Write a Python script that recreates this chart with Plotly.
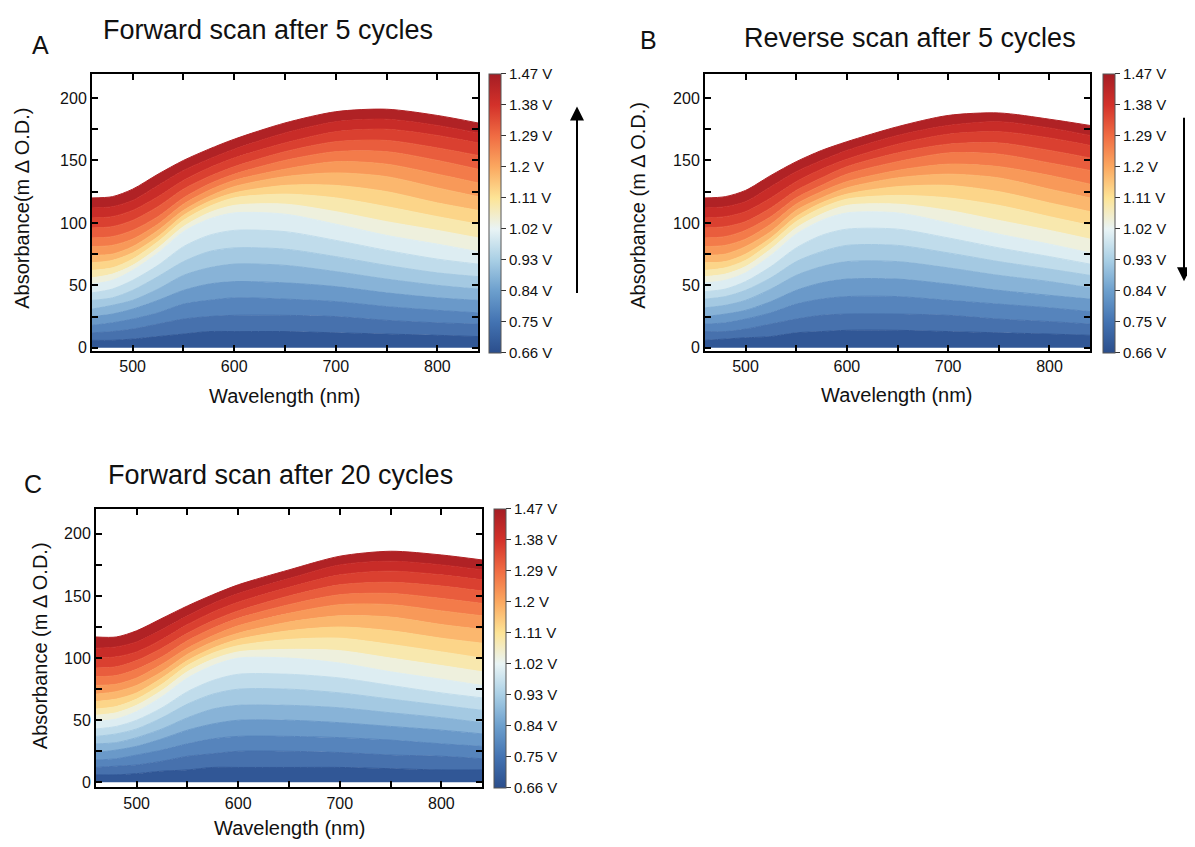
import plotly.graph_objects as go
from plotly.colors import sample_colorscale

# ---------------- data ----------------
WAVELENGTH = [460, 480, 500, 525, 550, 575, 600, 650, 700, 750, 800, 840]

VOLTAGES = [0.66, 0.705, 0.75, 0.795, 0.84, 0.885, 0.93, 0.975, 1.02, 1.065,
            1.11, 1.155, 1.2, 1.245, 1.29, 1.335, 1.38, 1.425, 1.47]

TICK_VOLTS = [0.66, 0.75, 0.84, 0.93, 1.02, 1.11, 1.2, 1.29, 1.38, 1.47]
TICK_TEXT = ["0.66 V", "0.75 V", "0.84 V", "0.93 V", "1.02 V",
             "1.11 V", "1.2 V", "1.29 V", "1.38 V", "1.47 V"]

# Absorbance (m delta O.D.) spectra, one row per voltage (ascending)
ABS_A = [
    [0, 0, 0, 0, 0, 0, 0, 0, 0, 0, 0, 0],
    [6, 6, 7, 9, 11, 13, 13, 13, 12, 11, 10, 9],
    [12, 13, 15, 19, 23, 25, 26, 26, 25, 22, 20, 19],
    [18, 20, 23, 28, 35, 38, 40, 39, 37, 33, 30, 28],
    [25, 27, 31, 38, 46, 51, 53, 52, 49, 44, 40, 38],
    [31, 34, 38, 47, 58, 64, 67, 66, 61, 55, 50, 47],
    [38, 40, 46, 57, 69, 77, 80, 79, 73, 66, 60, 57],
    [44, 47, 54, 66, 81, 90, 94, 93, 86, 78, 71, 67],
    [51, 54, 62, 76, 93, 103, 108, 107, 99, 90, 83, 77],
    [56, 59, 66, 80, 97, 108, 114, 115, 109, 101, 94, 88],
    [62, 64, 71, 85, 102, 113, 120, 123, 120, 113, 105, 99],
    [68, 70, 76, 89, 106, 117, 124, 130, 130, 125, 116, 110],
    [74, 75, 81, 94, 110, 121, 129, 137, 140, 137, 128, 121],
    [81, 82, 87, 99, 115, 126, 134, 143, 149, 147, 139, 132],
    [88, 89, 94, 105, 120, 131, 139, 150, 157, 157, 150, 143],
    [96, 97, 102, 113, 127, 137, 145, 157, 165, 166, 160, 154],
    [104, 105, 110, 121, 134, 144, 152, 164, 173, 175, 170, 164],
    [112, 113, 118, 130, 142, 151, 159, 172, 181, 183, 178, 172],
    [120, 121, 127, 139, 150, 159, 167, 180, 189, 191, 186, 180],
]

ABS_B = [
    [0, 0, 0, 0, 0, 0, 0, 0, 0, 0, 0, 0],
    [6, 7, 8, 9, 12, 13, 14, 14, 13, 12, 11, 10],
    [13, 13, 15, 19, 23, 26, 27, 27, 26, 23, 21, 19],
    [19, 20, 23, 28, 35, 39, 41, 41, 38, 35, 32, 29],
    [25, 27, 30, 37, 46, 52, 55, 55, 51, 46, 42, 39],
    [32, 34, 38, 47, 58, 65, 69, 69, 64, 58, 53, 48],
    [39, 41, 46, 56, 69, 77, 82, 82, 76, 69, 63, 58],
    [45, 47, 53, 65, 80, 90, 95, 95, 88, 80, 73, 67],
    [52, 54, 60, 74, 91, 102, 108, 108, 100, 91, 83, 76],
    [57, 59, 65, 79, 96, 107, 114, 115, 110, 102, 94, 87],
    [62, 64, 70, 84, 101, 112, 119, 122, 120, 114, 105, 98],
    [68, 69, 75, 88, 105, 116, 123, 129, 130, 125, 116, 109],
    [74, 75, 81, 93, 110, 120, 128, 136, 139, 136, 127, 120],
    [81, 82, 87, 99, 115, 125, 133, 142, 147, 145, 138, 131],
    [88, 89, 94, 105, 120, 130, 139, 149, 156, 155, 148, 142],
    [96, 97, 101, 112, 126, 136, 145, 156, 163, 164, 158, 152],
    [104, 105, 109, 120, 133, 143, 151, 163, 171, 173, 168, 162],
    [112, 113, 117, 129, 141, 150, 158, 170, 178, 181, 176, 170],
    [120, 121, 126, 138, 149, 158, 165, 177, 186, 188, 183, 178],
]

ABS_C = [
    [0, 0, 0, 0, 0, 0, 0, 0, 0, 0, 0, 0],
    [6, 6, 7, 9, 10, 12, 12, 12, 12, 11, 10, 10],
    [12, 13, 14, 17, 21, 23, 25, 25, 24, 22, 21, 19],
    [18, 19, 22, 26, 31, 35, 37, 37, 36, 34, 31, 29],
    [24, 26, 29, 35, 42, 47, 50, 50, 48, 45, 42, 39],
    [31, 32, 36, 43, 52, 59, 62, 62, 60, 56, 52, 48],
    [37, 39, 43, 52, 63, 71, 75, 75, 72, 67, 62, 58],
    [43, 45, 50, 60, 73, 82, 87, 87, 84, 78, 72, 68],
    [49, 51, 57, 69, 84, 94, 100, 100, 96, 89, 83, 78],
    [54, 56, 62, 74, 89, 99, 105, 107, 106, 100, 94, 89],
    [59, 61, 67, 79, 94, 104, 110, 115, 116, 111, 105, 100],
    [65, 67, 72, 84, 98, 108, 115, 122, 125, 122, 116, 112],
    [71, 73, 78, 89, 103, 113, 120, 129, 134, 133, 127, 123],
    [78, 79, 84, 95, 108, 118, 126, 136, 143, 143, 138, 134],
    [85, 86, 91, 101, 114, 124, 132, 143, 151, 152, 148, 144],
    [92, 93, 98, 108, 120, 130, 138, 150, 159, 161, 158, 154],
    [100, 101, 105, 115, 127, 137, 145, 157, 167, 170, 167, 163],
    [108, 109, 113, 123, 134, 144, 152, 164, 175, 178, 175, 171],
    [117, 117, 122, 132, 142, 151, 159, 171, 182, 186, 183, 179],
]

COLOR_STOPS = ["#2b4e8c", "#4373b2", "#6c9fcd", "#a9cfe5", "#e9f4f5",
               "#fde496", "#fba860", "#f06c43", "#d3312a", "#a51d24"]

# ---------------- styling ----------------
FONT = "Liberation Sans, Arial, sans-serif"
VMIN, VMAX = TICK_VOLTS[0], TICK_VOLTS[-1]
COLORSCALE = [[(v - VMIN) / (VMAX - VMIN), c] for v, c in zip(TICK_VOLTS, COLOR_STOPS)]
COLORSCALE[-1][0] = 1.0
SPECKLE = 0.10                # the dense line plot shows white gaps in the blue region

OFF = 8                       # page offset of the plot div (body margin)
W, H = 1195 - OFF, 847 - OFF


def px_x(p):
    return (p - OFF) / W


def px_y(p):
    return 1 - (p - OFF) / H


def band_color(frac, lighten):
    c = sample_colorscale(COLORSCALE, [frac], colortype="tuple")[0]
    r, g, b = [int(round(255 * (ch + (1 - ch) * lighten))) for ch in c]
    return f"rgb({r},{g},{b})"


panels = [
    dict(data=ABS_A, ax="", xd=(92, 478), yd=(74, 353), yr=[-2.5, 219.5], cbx=489, cbt=74),
    dict(data=ABS_B, ax="2", xd=(705, 1090), yd=(74, 353), yr=[-2.5, 219.5], cbx=1103, cbt=74),
    dict(data=ABS_C, ax="3", xd=(96, 482), yd=(512, 792), yr=[-4, 220], cbx=494, cbt=512),
]

fig = go.Figure()

for p in panels:
    xa = "x" + p["ax"]
    ya = "y" + p["ax"]
    rows = p["data"]
    for i, (v, row) in enumerate(zip(VOLTAGES, rows)):
        if i == 0:
            col = band_color(0.0, 0)
            fig.add_trace(go.Scatter(x=WAVELENGTH, y=row, mode="lines",
                                     line=dict(color=col, width=0, shape="spline", smoothing=0.8),
                                     xaxis=xa, yaxis=ya, hoverinfo="skip", showlegend=False))
        else:
            mid = ((VOLTAGES[i - 1] + v) / 2 - VMIN) / (VMAX - VMIN)
            light = SPECKLE if 0.2 < mid < 0.45 else (SPECKLE / 2 if 0.05 < mid <= 0.2 else 0)
            col = band_color(mid, light)
            fig.add_trace(go.Scatter(x=WAVELENGTH, y=row, mode="lines",
                                     line=dict(color=col, width=1, shape="spline", smoothing=0.8),
                                     fill="tonexty", fillcolor=col,
                                     xaxis=xa, yaxis=ya, hoverinfo="skip", showlegend=False))

# colorbars (invisible marker traces)
for p in panels:
    xa = "x" + p["ax"]
    ya = "y" + p["ax"]
    fig.add_trace(go.Scatter(
        x=WAVELENGTH[:1], y=p["data"][0][:1], mode="markers",
        marker=dict(size=1, opacity=0, color=[VMIN], cmin=VMIN, cmax=VMAX,
                    colorscale=COLORSCALE, showscale=True,
                    colorbar=dict(
                        x=px_x(p["cbx"]), xanchor="left", y=px_y(p["cbt"]), yanchor="top",
                        len=279, lenmode="pixels", thickness=12, thicknessmode="pixels",
                        xpad=0, ypad=0, outlinewidth=1, outlinecolor="#555",
                        tickvals=TICK_VOLTS, ticktext=TICK_TEXT, ticks="outside",
                        ticklen=5, tickwidth=1, tickcolor="#333",
                        tickfont=dict(family=FONT, size=15, color="#111"))),
        xaxis=xa, yaxis=ya, hoverinfo="skip", showlegend=False))

axis_common = dict(ticks="inside", ticklen=6, tickwidth=1.5, tickcolor="black",
                   showline=True, linewidth=2, linecolor="black", mirror="allticks",
                   showgrid=False, zeroline=False,
                   tickfont=dict(family=FONT, size=16, color="#111"))

layout = dict(width=W, height=H, margin=dict(l=0, r=0, t=0, b=0),
              paper_bgcolor="white", plot_bgcolor="white", showlegend=False)

for p in panels:
    s = p["ax"]
    layout["xaxis" + s] = dict(axis_common, domain=[px_x(p["xd"][0]), px_x(p["xd"][1])],
                               range=[460, 840], tick0=0, dtick=100,
                               minor=dict(ticks="inside", ticklen=6, tickwidth=1.5,
                                          tickcolor="black", dtick=50, tick0=0),
                               anchor="y" + s)
    layout["yaxis" + s] = dict(axis_common, domain=[px_y(p["yd"][1]), px_y(p["yd"][0])],
                               range=p["yr"], tick0=0, dtick=50,
                               minor=dict(ticks="inside", ticklen=6, tickwidth=1.5,
                                          tickcolor="black", dtick=25, tick0=0),
                               anchor="x" + s)

fig.update_layout(**layout)


def text(x, y, t, size, angle=0):
    fig.add_annotation(x=px_x(x), y=px_y(y), xref="paper", yref="paper", text=t,
                       showarrow=False, textangle=angle,
                       font=dict(family=FONT, size=size, color="#111"),
                       xanchor="center", yanchor="middle")


# panel letters and titles
text(40, 45, "A", 25)
text(268, 30, "Forward scan after 5 cycles", 27)
text(648, 40, "B", 25)
text(910, 38, "Reverse scan after 5 cycles", 27)
text(33, 487, "C", 25)
text(280, 478, "Forward scan after 20 cycles", 27)

# axis titles
text(22, 210, "Absorbance(m \u0394 O.D.)", 20, -90)
text(285, 398, "Wavelength (nm)", 20)
text(638, 207, "Absorbance (m \u0394 O.D.)", 20, -90)
text(897, 397, "Wavelength (nm)", 20)
text(40, 650, "Absorbance (m \u0394 O.D.)", 20, -90)
text(290, 833, "Wavelength (nm)", 20)

# scan direction arrows
fig.add_annotation(x=px_x(577), y=px_y(107), xref="paper", yref="paper", text="",
                   showarrow=True, ax=0, ay=188, arrowhead=2, arrowsize=1.4,
                   arrowwidth=2, arrowcolor="black")
fig.add_annotation(x=px_x(1184), y=px_y(283), xref="paper", yref="paper", text="",
                   showarrow=True, ax=0, ay=-165, arrowhead=2, arrowsize=1.4,
                   arrowwidth=2, arrowcolor="black")

fig.write_html("out.html")
